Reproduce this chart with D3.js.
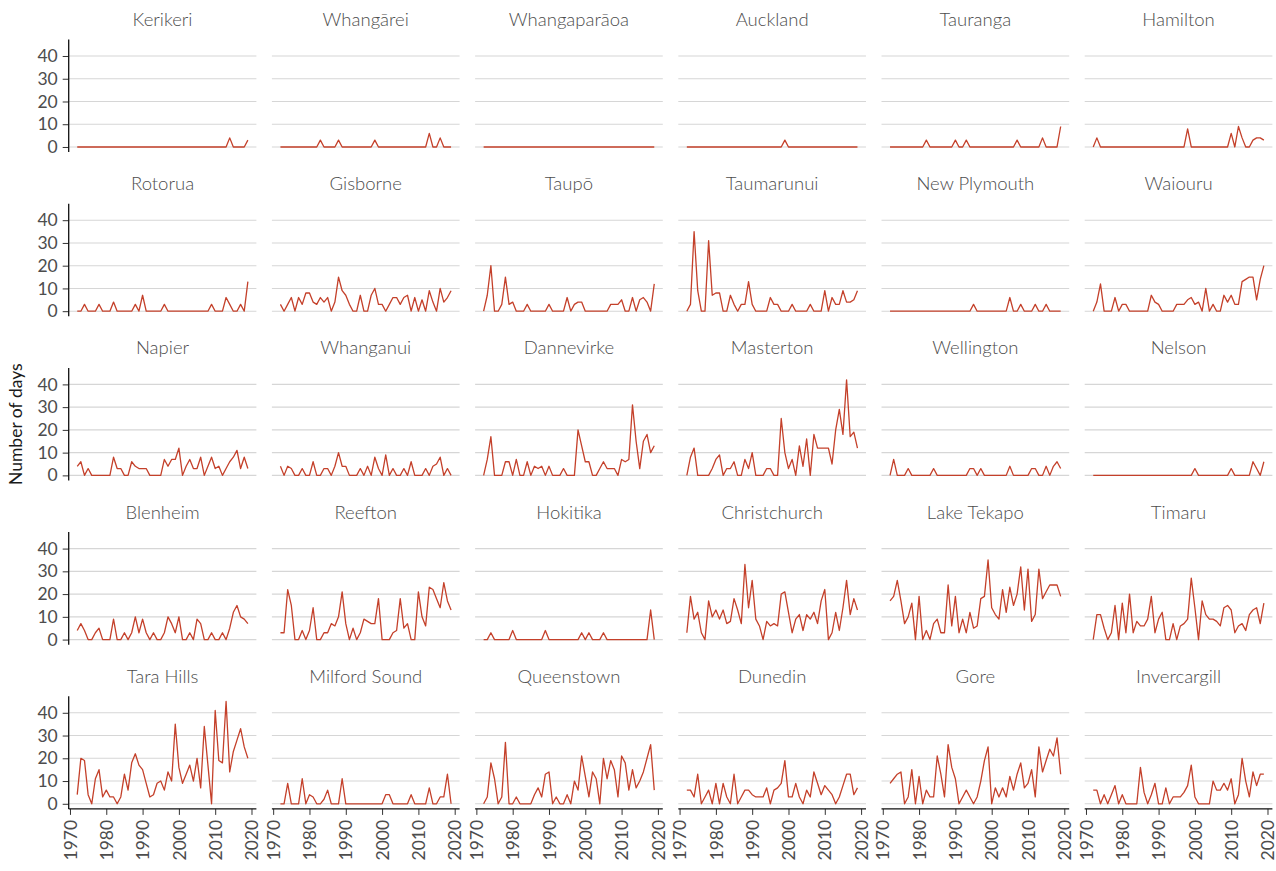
<!DOCTYPE html>
<html>
<head>
<meta charset="utf-8">
<script src="https://cdn.jsdelivr.net/npm/d3@7"></script>
<style>
  body { margin: 0; background: #fff; }
  svg { display: block; font-family: Lato, "Open Sans", sans-serif; }
</style>
</head>
<body>
<div id="chart"></div>
<script>
// Hot days per year at NZ stations, 1972-2019
const years = [1972, 1973, 1974, 1975, 1976, 1977, 1978, 1979, 1980, 1981,
  1982, 1983, 1984, 1985, 1986, 1987, 1988, 1989, 1990, 1991,
  1992, 1993, 1994, 1995, 1996, 1997, 1998, 1999, 2000, 2001,
  2002, 2003, 2004, 2005, 2006, 2007, 2008, 2009, 2010, 2011,
  2012, 2013, 2014, 2015, 2016, 2017, 2018, 2019];

const stations = [
  "Kerikeri", "Whangārei", "Whangaparāoa", "Auckland", "Tauranga", "Hamilton",
  "Rotorua", "Gisborne", "Taupō", "Taumarunui", "New Plymouth", "Waiouru",
  "Napier", "Whanganui", "Dannevirke", "Masterton", "Wellington", "Nelson",
  "Blenheim", "Reefton", "Hokitika", "Christchurch", "Lake Tekapo", "Timaru",
  "Tara Hills", "Milford Sound", "Queenstown", "Dunedin", "Gore", "Invercargill"
];

const kerikeri = [0,0,0,0,0,0,0,0,0,0, 0,0,0,0,0,0,0,0,0,0, 0,0,0,0,0,0,0,0,0,0, 0,0,0,0,0,0,0,0,0,0, 0,0,4,0,0,0,0,3];
const whangarei = [0,0,0,0,0,0,0,0,0,0, 0,3,0,0,0,0,3,0,0,0, 0,0,0,0,0,0,3,0,0,0, 0,0,0,0,0,0,0,0,0,0, 0,6,0,0,4,0,0,0];
const whangaparaoa = [0,0,0,0,0,0,0,0,0,0, 0,0,0,0,0,0,0,0,0,0, 0,0,0,0,0,0,0,0,0,0, 0,0,0,0,0,0,0,0,0,0, 0,0,0,0,0,0,0,0];
const auckland = [0,0,0,0,0,0,0,0,0,0, 0,0,0,0,0,0,0,0,0,0, 0,0,0,0,0,0,0,3,0,0, 0,0,0,0,0,0,0,0,0,0, 0,0,0,0,0,0,0,0];
const tauranga = [0,0,0,0,0,0,0,0,0,0, 3,0,0,0,0,0,0,0,3,0, 0,3,0,0,0,0,0,0,0,0, 0,0,0,0,0,3,0,0,0,0, 0,0,4,0,0,0,0,9];
const hamilton = [0,4,0,0,0,0,0,0,0,0, 0,0,0,0,0,0,0,0,0,0, 0,0,0,0,0,0,8,0,0,0, 0,0,0,0,0,0,0,0,6,0, 9,4,0,0,3,4,4,3];

const rotorua = [0,0,3,0,0,0,3,0,0,0, 4,0,0,0,0,0,3,0,7,0, 0,0,0,0,3,0,0,0,0,0, 0,0,0,0,0,0,0,3,0,0, 0,6,3,0,0,3,0,13];
const gisborne = [3,0,3,6,0,6,3,8,8,4, 3,6,4,6,0,4,15,9,7,3, 0,0,7,0,0,7,10,3,3,0, 3,6,6,3,6,7,0,6,0,5, 0,9,4,0,10,4,6,9];
const taupo = [0,7,20,0,0,3,15,3,4,0, 0,0,3,0,0,0,0,0,3,0, 0,0,0,6,0,3,4,4,0,0, 0,0,0,0,0,3,3,3,5,0, 0,6,0,5,6,4,0,12];
const taumarunui = [0,3,35,9,0,0,31,7,8,8, 0,0,7,3,0,3,3,13,3,0, 0,0,0,6,3,3,0,0,0,3, 0,0,0,0,3,0,0,0,9,0, 6,3,3,9,4,4,5,9];
const newPlymouth = [0,0,0,0,0,0,0,0,0,0, 0,0,0,0,0,0,0,0,0,0, 0,0,0,3,0,0,0,0,0,0, 0,0,0,6,0,0,3,0,0,0, 3,0,0,3,0,0,0,0];
const waiouru = [0,4,12,0,0,0,6,0,3,3, 0,0,0,0,0,0,7,4,3,0, 0,0,0,3,3,3,5,6,3,4, 0,10,0,3,0,0,7,4,7,3, 3,13,14,15,15,5,14,20];

const napier = [4,6,0,3,0,0,0,0,0,0, 8,3,3,0,0,6,4,3,3,3, 0,0,0,0,7,4,7,7,12,0, 4,7,3,3,8,0,4,8,3,4, 0,3,6,8,11,3,8,3];
const whanganui = [4,0,4,3,0,0,3,0,0,6, 0,0,3,3,0,4,10,4,4,0, 0,0,3,0,4,0,8,3,0,9, 0,3,0,0,3,0,6,0,0,0, 3,0,4,5,8,0,3,0];
const dannevirke = [0,7,17,0,0,0,6,6,0,7, 0,0,6,0,4,3,4,0,4,0, 0,0,3,0,0,0,20,13,6,6, 0,0,3,6,3,3,3,0,7,6, 7,31,15,3,15,18,10,13];
const masterton = [0,8,12,0,0,0,0,3,7,9, 0,3,3,6,0,0,7,3,10,0, 0,0,3,3,0,0,25,10,3,7, 0,13,4,16,0,18,12,12,12,12, 5,20,29,18,42,17,19,12];
const wellington = [0,7,0,0,0,3,0,0,0,0, 0,0,3,0,0,0,0,0,0,0, 0,0,3,3,0,3,0,0,0,0, 0,0,0,4,0,0,0,0,0,3, 3,0,0,4,0,4,6,3];
const nelson = [0,0,0,0,0,0,0,0,0,0, 0,0,0,0,0,0,0,0,0,0, 0,0,0,0,0,0,0,0,3,0, 0,0,0,0,0,0,0,0,3,0, 0,0,0,0,6,3,0,6];

const blenheim = [4,7,4,0,0,3,5,0,0,0, 9,0,0,3,0,3,10,3,9,3, 0,3,0,0,3,10,7,3,10,0, 0,3,0,9,7,0,0,3,0,0, 3,0,5,12,15,10,9,7];
const reefton = [3,3,22,15,0,0,4,0,4,14, 0,0,3,3,7,6,10,21,7,0, 5,0,3,9,8,7,7,18,0,0, 0,3,4,18,5,7,0,0,21,10, 6,23,22,18,14,25,17,13];
const hokitika = [0,0,3,0,0,0,0,0,4,0, 0,0,0,0,0,0,0,4,0,0, 0,0,0,0,0,0,0,3,0,3, 0,0,0,3,0,0,0,0,0,0, 0,0,0,0,0,0,13,0];
const christchurch = [3,19,9,12,3,0,17,10,13,9, 13,7,8,18,13,7,33,14,26,9, 6,0,8,6,7,6,20,21,12,3, 9,11,4,11,9,12,7,17,22,0, 3,12,4,14,26,11,18,13];
const lakeTekapo = [17,19,26,17,7,10,16,0,19,0, 4,0,7,9,3,3,24,6,19,3, 9,3,12,5,6,18,19,35,14,11, 9,22,12,23,15,20,32,13,31,8, 11,31,18,21,24,24,24,19];
const timaru = [0,11,11,5,0,3,15,0,16,3, 20,3,8,6,6,9,19,3,9,12, 0,0,7,0,6,7,9,27,14,0, 17,11,9,9,8,6,14,15,13,3, 6,7,4,11,13,14,7,16];

const taraHills = [4,20,19,4,0,11,15,3,6,3, 3,0,3,13,6,18,22,17,15,9, 3,4,9,10,6,14,10,35,16,9, 13,17,10,20,7,34,17,0,41,19, 18,45,14,23,28,33,25,20];
const milfordSound = [0,0,9,0,0,0,11,0,4,3, 0,0,2,6,0,0,0,11,0,0, 0,0,0,0,0,0,0,0,0,4, 4,0,0,0,0,0,4,0,0,0, 0,7,0,0,3,3,13,0];
const queenstown = [0,3,18,11,0,3,27,0,0,3, 0,0,0,0,4,7,3,13,14,0, 3,0,0,4,0,10,6,21,12,3, 14,11,0,20,11,19,15,3,21,18, 6,15,7,10,14,20,26,6];
const dunedin = [6,6,3,13,0,3,6,0,9,0, 9,3,0,13,0,3,6,6,4,3, 3,3,7,0,6,7,9,19,3,3, 9,3,0,6,3,14,9,4,8,6, 4,0,3,8,13,13,4,7];
const gore = [9,11,13,14,0,3,15,0,12,0, 6,3,3,21,13,3,26,16,11,0, 3,6,3,0,3,10,19,25,0,7, 3,7,3,12,6,13,18,7,9,15, 3,25,14,19,24,21,29,13];
const invercargill = [6,6,0,4,0,4,8,0,4,0, 0,0,0,16,5,0,4,9,0,0, 7,0,3,3,3,5,8,17,3,0, 0,0,0,10,6,6,9,6,11,0, 4,20,10,3,14,8,13,13];

const daysByStation = [
  kerikeri, whangarei, whangaparaoa, auckland, tauranga, hamilton,
  rotorua, gisborne, taupo, taumarunui, newPlymouth, waiouru,
  napier, whanganui, dannevirke, masterton, wellington, nelson,
  blenheim, reefton, hokitika, christchurch, lakeTekapo, timaru,
  taraHills, milfordSound, queenstown, dunedin, gore, invercargill
];

const yTicks = [0, 10, 20, 30, 40];
const xTicks = [1970, 1980, 1990, 2000, 2010, 2020];

const width = 1276, height = 871;
const nCols = 6, nRows = 5;
const marginLeft = 68.7, marginTop = 39.5;
const panelW = 187.7, panelH = 112.6;
const stepX = 203.2, stepY = 164.2;
const lineColor = "#c4402a";

const svg = d3.select("#chart")
  .append("svg")
  .attr("width", width)
  .attr("height", height);

// ggplot style 5% expansion on both axes
const allVals = daysByStation.flat();
const yMax = d3.max(allVals);
const xPad = (d3.max(years) - d3.min(years)) * 0.05;
const yPad = yMax * 0.05;

const x = d3.scaleLinear()
  .domain([d3.min(years) - xPad, d3.max(years) + xPad])
  .range([0, panelW]);

const y = d3.scaleLinear()
  .domain([0 - yPad, yMax + yPad])
  .range([panelH, 0]);

const line = d3.line()
  .x((d, i) => x(years[i]))
  .y((d) => y(d));

stations.forEach((name, k) => {
  const col = k % nCols;
  const row = Math.floor(k / nCols);
  const g = svg.append("g")
    .attr("transform", `translate(${marginLeft + col * stepX}, ${marginTop + row * stepY})`);

  // gridlines
  g.selectAll("line.grid")
    .data(yTicks)
    .enter()
    .append("line")
    .attr("class", "grid")
    .attr("x1", 0)
    .attr("x2", panelW)
    .attr("y1", (d) => y(d))
    .attr("y2", (d) => y(d))
    .attr("stroke", "#d6d6d6")
    .attr("stroke-width", 1.1);

  // strip title
  g.append("text")
    .attr("x", panelW / 2)
    .attr("y", -13.5)
    .attr("text-anchor", "middle")
    .attr("font-size", "18.5px")
    .attr("font-weight", 300)
    .attr("fill", "#4d4d4d")
    .text(name);

  g.append("path")
    .datum(daysByStation[k])
    .attr("d", line)
    .attr("fill", "none")
    .attr("stroke", lineColor)
    .attr("stroke-width", 1.3)
    .attr("stroke-linejoin", "round");

  if (col === 0) {
    const yAxis = g.append("g")
      .call(d3.axisLeft(y).tickValues(yTicks).tickSize(6).tickPadding(5));
    yAxis.select(".domain").remove();
    yAxis.append("line")
      .attr("x1", 0).attr("x2", 0)
      .attr("y1", 0).attr("y2", panelH)
      .attr("stroke", "#111")
      .attr("stroke-width", 1.3);
    yAxis.selectAll(".tick line").attr("stroke", "#333");
    yAxis.selectAll(".tick text")
      .attr("font-size", "17.5px")
      .attr("font-family", "Lato, sans-serif")
      .attr("fill", "#4d4d4d");
  }

  if (row === nRows - 1) {
    const xAxis = g.append("g")
      .attr("transform", `translate(0, ${panelH})`)
      .call(d3.axisBottom(x).tickValues(xTicks).tickFormat(d3.format("d")).tickSize(6).tickPadding(5));
    xAxis.select(".domain").remove();
    xAxis.append("line")
      .attr("x1", 0).attr("x2", panelW)
      .attr("y1", 0).attr("y2", 0)
      .attr("stroke", "#111")
      .attr("stroke-width", 1.3);
    xAxis.selectAll(".tick line").attr("stroke", "#333");
    xAxis.selectAll(".tick text")
      .attr("font-size", "17.5px")
      .attr("font-family", "Lato, sans-serif")
      .attr("fill", "#4d4d4d")
      .attr("text-anchor", "end")
      .attr("dy", "0.35em")
      .attr("transform", "translate(0, 11) rotate(-90)")
      .attr("x", 0)
      .attr("y", 0);
  }
});

// y axis title
svg.append("text")
  .attr("transform", `translate(22, ${marginTop + (stepY * (nRows - 1) + panelH) / 2}) rotate(-90)`)
  .attr("text-anchor", "middle")
  .attr("font-size", "17.5px")
  .attr("fill", "#1a1a1a")
  .text("Number of days");
</script>
</body>
</html>
